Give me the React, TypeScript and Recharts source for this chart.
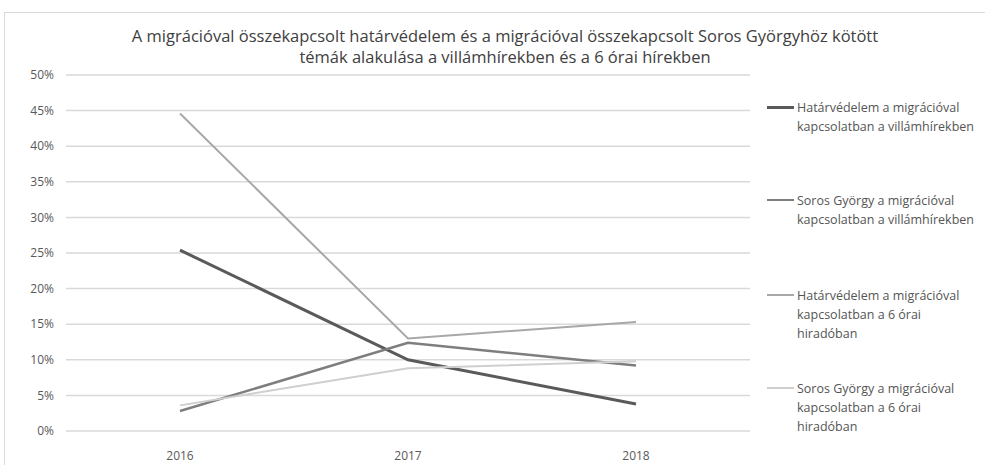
import React from "react";
import { LineChart, Line, XAxis, YAxis, CartesianGrid } from "recharts";

const years = ["2016", "2017", "2018"];
const hatarVillam = [0.254, 0.1, 0.038];
const sorosVillam = [0.028, 0.124, 0.092];
const hatarHirado = [0.446, 0.13, 0.153];
const sorosHirado = [0.036, 0.088, 0.098];
const yTicks = [0, 0.05, 0.1, 0.15, 0.2, 0.25, 0.3, 0.35, 0.4, 0.45, 0.5];

const seriesNames = [
  "Határvédelem a migrációval kapcsolatban a villámhírekben",
  "Soros György a migrációval kapcsolatban a villámhírekben",
  "Határvédelem a migrációval kapcsolatban a 6 órai hiradóban",
  "Soros György a migrációval kapcsolatban a 6 órai hiradóban",
];
const legendLines = [
  ["Határvédelem a migrációval", "kapcsolatban a villámhírekben"],
  ["Soros György a migrációval", "kapcsolatban a villámhírekben"],
  ["Határvédelem a migrációval", "kapcsolatban a 6 órai", "hiradóban"],
  ["Soros György a migrációval", "kapcsolatban a 6 órai", "hiradóban"],
];
const titleLines = [
  "A migrációval összekapcsolt határvédelem és a migrációval összekapcsolt Soros Györgyhöz kötött",
  "témák alakulása a villámhírekben és a 6 órai hírekben",
];

const data = years.map((y, i) => ({
  year: y,
  s1: hatarVillam[i],
  s2: sorosVillam[i],
  s3: hatarHirado[i],
  s4: sorosHirado[i],
}));

const colors = ["#5a5a5a", "#7e7e7e", "#a8a8a8", "#cfcfcf"];
const widths = [3, 2.5, 2, 2];
const legendTops = [98, 191, 286, 379];
const FONT = "'Open Sans', 'Liberation Sans', sans-serif";

const LegendBlock = () => (
  <div style={{ position: "absolute", left: 767, top: 0 }}>
    {legendLines.map((lines, i) => (
      <div key={i} style={{ position: "absolute", left: 0, top: legendTops[i] }}>
        <div
          style={{
            position: "absolute",
            left: 0,
            top: 9 - widths[i] / 2,
            width: 27,
            height: widths[i],
            background: colors[i],
          }}
        />
        <div
          style={{
            position: "absolute",
            left: 30,
            top: 0,
            fontFamily: FONT,
            fontSize: 12.5,
            lineHeight: "19px",
            color: "#555",
            whiteSpace: "nowrap",
          }}
          title={seriesNames[i]}
        >
          {lines.map((l, j) => (
            <div key={j}>{l}</div>
          ))}
        </div>
      </div>
    ))}
  </div>
);

export default function App() {
  return (
    <div style={{ position: "absolute", left: 0, top: 0, width: 985, height: 465, background: "#fff", overflow: "hidden" }}>
      <div
        style={{
          position: "absolute",
          left: 4,
          top: 12,
          width: 990,
          height: 460,
          border: "1px solid #d9d9d9",
          boxSizing: "border-box",
        }}
      />
      <div
        style={{
          position: "absolute",
          left: 0,
          top: 25,
          width: 1010,
          textAlign: "center",
          fontFamily: FONT,
          fontSize: 16.5,
          lineHeight: "21px",
          color: "#404040",
        }}
      >
        {titleLines.map((t, i) => (
          <div key={i}>{t}</div>
        ))}
      </div>
      <div style={{ position: "absolute", left: 0, top: 0 }}>
        <LineChart width={985} height={465} data={data} margin={{ top: 75, right: 235, bottom: 4, left: 8 }}>
          <CartesianGrid vertical={false} stroke="#d9d9d9" strokeWidth={1.5} />
          <XAxis
            dataKey="year"
            axisLine={false}
            tickLine={false}
            height={30}
            padding={{ left: 114, right: 114 }}
            tick={{ fill: "#595959", fontSize: 12, fontFamily: FONT }}
            tickMargin={14}
          />
          <YAxis
            domain={[0, 0.5]}
            ticks={yTicks}
            width={58}
            axisLine={false}
            tickLine={false}
            tickFormatter={(v: number) => `${Math.round(v * 100)}%`}
            tick={{ fill: "#595959", fontSize: 12, fontFamily: FONT }}
            tickMargin={6}
          />
          {["s1", "s2", "s3", "s4"].map((k, i) => (
            <Line
              key={k}
              dataKey={k}
              name={seriesNames[i]}
              stroke={colors[i]}
              strokeWidth={widths[i]}
              dot={false}
              activeDot={false}
              isAnimationActive={false}
            />
          ))}
        </LineChart>
      </div>
      <LegendBlock />
    </div>
  );
}
